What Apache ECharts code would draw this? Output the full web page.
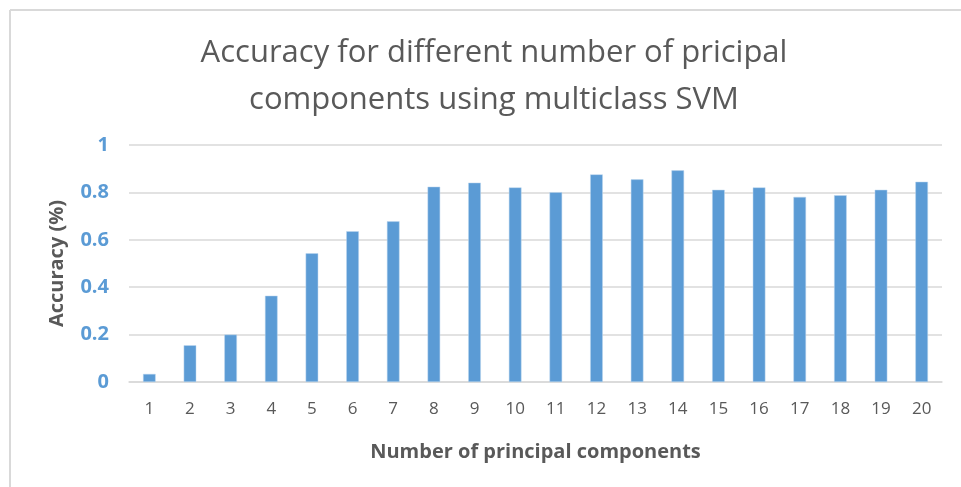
<!DOCTYPE html>
<html>
<head>
<meta charset="utf-8">
<script src="https://cdn.jsdelivr.net/npm/echarts@6/dist/echarts.min.js"></script>
<style>
  html, body { margin: 0; padding: 0; background: #fff; }
  #chart { width: 961px; height: 487px; }
</style>
</head>
<body>
<div id="chart"></div>
<script>
var components = ["1", "2", "3", "4", "5", "6", "7", "8", "9", "10",
  "11", "12", "13", "14", "15", "16", "17", "18", "19", "20"];
var accuracy = [0.034, 0.155, 0.2, 0.364, 0.543, 0.636, 0.678, 0.824, 0.841, 0.821,
  0.801, 0.876, 0.855, 0.893, 0.811, 0.821, 0.781, 0.788, 0.811, 0.845];
var yTicks = [0, 0.2, 0.4, 0.6, 0.8, 1];

var myChart = echarts.init(document.getElementById("chart"));
var font = "'Open Sans', 'Noto Sans', sans-serif";

myChart.setOption({
  animation: false,
  title: {
    text: "Accuracy for different number of pricipal\ncomponents using multiclass SVM",
    left: 489,
    top: 25,
    textAlign: "center",
    textStyle: {
      fontFamily: font,
      fontWeight: "normal",
      fontSize: 31,
      lineHeight: 47,
      color: "#595959"
    }
  },
  // chart area border (top and left edges visible)
  graphic: [
    { type: "line", shape: { x1: 10, y1: 10, x2: 961, y2: 10 }, style: { stroke: "#d9d9d9", lineWidth: 2 } },
    { type: "line", shape: { x1: 10, y1: 10, x2: 10, y2: 487 }, style: { stroke: "#d9d9d9", lineWidth: 2 } }
  ],
  grid: { left: 129, right: 19, top: 145, bottom: 105 },
  xAxis: {
    type: "category",
    data: components,
    name: "Number of principal components",
    nameLocation: "middle",
    nameGap: 60,
    nameTextStyle: { fontFamily: font, fontWeight: "bold", fontSize: 20, color: "#595959" },
    axisLine: { lineStyle: { color: "#d9d9d9", width: 1.5 } },
    axisTick: { show: false },
    axisLabel: { fontFamily: font, fontSize: 17, color: "#595959", margin: 19 }
  },
  yAxis: {
    type: "value",
    min: yTicks[0],
    max: yTicks[yTicks.length - 1],
    interval: 0.2,
    name: "Accuracy (%)",
    nameLocation: "middle",
    nameGap: 62,
    nameTextStyle: { fontFamily: font, fontWeight: "bold", fontSize: 20, color: "#595959" },
    axisLine: { show: false },
    axisTick: { show: false },
    axisLabel: { fontFamily: font, fontWeight: "bold", fontSize: 20, color: "#5b9bd5", margin: 20 },
    splitLine: { lineStyle: { color: "#d9d9d9", width: 1.5 } }
  },
  series: [
    {
      type: "bar",
      data: accuracy,
      barWidth: "31%",
      itemStyle: { color: "#5b9bd5", borderColor: "#bdd7ee", borderWidth: 0.5 }
    }
  ]
});
</script>
</body>
</html>
